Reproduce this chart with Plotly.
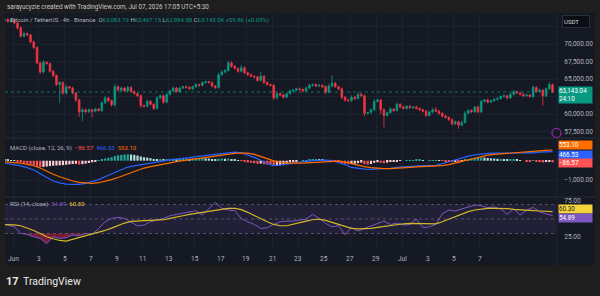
import plotly.graph_objects as go

W, H = 600, 296
def px(x): return x / W
def py(y): return 1 - y / H

UP = "#089981"
DN = "#F23645"
BG = "#151924"
GRID = "#1d2130"
TXT = "#b2b5be"
FONT = "Roboto, Noto Sans, sans-serif"

# ---------------- data ----------------
first_open = 73600
closes = [
    73300, 73500, 73200, 73400, 73000, 72300, 71100, 71500, 71300, 70300,
    69500, 67300, 66000, 67400, 67200, 66100, 65500, 64200, 64500, 63000,
    63900, 63700, 63000, 62000, 60300, 60600, 60300, 60600, 60400, 60700,
    60500, 61600, 62300, 61900, 61300, 63900, 63400, 63700, 63300, 63800,
    63200, 62900, 62600, 61200, 61100, 61800, 61400, 60800, 62300, 62600,
    61700, 62800, 63300, 63700, 63200, 63700, 63900, 63800, 63600, 63900,
    64200, 64100, 64500, 64600, 64500, 64000, 63800, 65600, 66000, 66200,
    67300, 66800, 66500, 66100, 66600, 65900, 65600, 65400, 65300, 64800,
    65400, 64500, 64200, 64100, 62300, 62900, 62700, 62400, 62900, 63300,
    63400, 63600, 63500, 63300, 63700, 64100, 64200, 64000, 64100, 63900,
    63100, 64000, 64400, 63900, 63600, 62400, 62000, 61900, 62400, 62200,
    62800, 62600, 60100, 60200, 60600, 61800, 62000, 60600, 59800, 60200,
    60700, 60500, 61400, 61000, 60800, 61100, 60900, 61000, 60800, 60600,
    60400, 59800, 60300, 60600, 60400, 60100, 59700, 59500, 59200, 58600,
    58900, 58400, 58800, 60100, 60500, 60300, 61000, 60300, 61800, 62000,
    61700, 61900, 62100, 62200, 62500, 62600, 62300, 62800, 63200, 63000,
    62800, 62600, 62700, 62500, 63800, 63200, 63400, 62600, 63600, 64200,
    63143.04]
wick_up = [
    150, 120, 200, 100, 150, 120, 200, 250, 150, 120,
    200, 150, 200, 300, 150, 150, 200, 150, 200, 150,
    300, 150, 200, 150, 200, 250, 150, 200, 150, 200,
    150, 200, 300, 150, 200, 400, 200, 250, 150, 200,
    150, 200, 150, 200, 150, 250, 200, 150, 250, 200,
    200, 250, 200, 200, 150, 200, 150, 150, 200, 150,
    200, 150, 150, 200, 150, 200, 150, 300, 250, 200,
    300, 250, 200, 150, 400, 200, 150, 200, 150, 150,
    600, 200, 150, 150, 150, 200, 150, 200, 150, 200,
    150, 150, 200, 150, 200, 250, 150, 200, 150, 150,
    200, 300, 1100, 200, 150, 200, 150, 200, 250, 150,
    300, 200, 200, 150, 200, 300, 200, 150, 200, 150,
    250, 150, 200, 150, 200, 150, 200, 150, 200, 150,
    150, 200, 150, 250, 400, 200, 150, 200, 150, 150,
    200, 150, 250, 300, 200, 150, 200, 200, 250, 150,
    200, 150, 150, 200, 150, 200, 150, 200, 250, 150,
    200, 150, 200, 150, 300, 200, 250, 200, 200, 400,
    150]
wick_dn = [
    150, 200, 150, 150, 200, 250, 200, 150, 200, 200,
    250, 200, 300, 200, 150, 200, 250, 200, 2600, 300,
    200, 150, 200, 250, 700, 1300, 200, 150, 900, 200,
    150, 200, 150, 200, 250, 300, 150, 200, 150, 150,
    200, 150, 200, 300, 200, 150, 200, 250, 150, 200,
    250, 200, 150, 150, 200, 150, 150, 200, 150, 150,
    150, 200, 150, 150, 200, 200, 250, 200, 150, 200,
    150, 200, 150, 200, 150, 200, 150, 150, 200, 200,
    150, 200, 150, 200, 300, 200, 150, 200, 150, 150,
    200, 150, 150, 200, 150, 150, 200, 150, 150, 200,
    250, 150, 200, 150, 200, 300, 250, 200, 150, 200,
    150, 200, 400, 200, 150, 200, 150, 600, 1700, 200,
    150, 200, 150, 200, 150, 200, 150, 200, 150, 200,
    200, 250, 150, 200, 150, 200, 200, 150, 200, 250,
    200, 500, 150, 200, 150, 200, 150, 200, 150, 150,
    200, 150, 150, 200, 150, 150, 200, 150, 150, 200,
    150, 200, 150, 200, 250, 200, 150, 1400, 200, 150,
    160]
macd_hist = [
    60, 50, 40, 30, 20, -20, -80, -120, -150, -200,
    -240, -310, -330, -320, -300, -280, -260, -250, -240, -230,
    -210, -190, -170, -160, -200, -180, -150, -120, -80, -40,
    20, 60, 110, 150, 180, 240, 280, 300, 320, 330,
    320, 300, 270, 220, 180, 160, 130, 90, 80, 90,
    70, 80, 90, 100, 90, 100, 110, 110, 100, 110,
    120, 120, 130, 120, 110, 80, 60, 100, 110, 100,
    110, 70, 40, 10, -10, -60, -90, -110, -130, -160,
    -150, -180, -200, -210, -280, -260, -220, -180, -140, -90,
    -60, -30, 0, 10, 30, 50, 60, 60, 50, 40,
    -10, 10, 20, -20, -50, -120, -160, -180, -170, -160,
    -130, -100, -180, -200, -170, -110, -80, -110, -130, -100,
    -70, -50, -20, -10, 0, 10, 20, 30, 40, 40,
    30, 0, 10, 20, 20, 10, -10, -30, -40, -70,
    -60, -70, -50, 40, 90, 120, 150, 160, 170, 160,
    140, 120, 110, 100, 100, 90, 60, 60, 60, 40,
    20, 0, -20, -40, 10, -20, -40, -90, -70, -60,
    -86.57]
macd_line = [
    -100, -150, -200, -270, -360, -480, -680, -880, -1050, -1150,
    -1210, -1230, -1230, -1170, -1090, -980, -830, -680, -540, -390,
    -290, -230, -190, -140, -80, -10, 40, 80, 110, 160,
    210, 250, 290, 330, 380, 430, 440, 410, 310, 170,
    20, -150, -240, -230, -180, -120, -70, -30, 0, 20,
    30, 10, -80, -200, -350, -410, -440, -450, -440, -420,
    -390, -350, -320, -290, -270, -260, -260, -240, -160, -60,
    50, 150, 240, 300, 350, 380, 390, 390, 380, 370,
    400, 420, 410, 440, 440, 466.53]
signal_line = [
    -40, -60, -90, -130, -190, -260, -380, -550, -700, -830,
    -950, -1050, -1120, -1160, -1170, -1140, -1070, -980, -870, -740,
    -600, -480, -380, -310, -240, -170, -110, -50, 0, 50,
    110, 160, 200, 250, 290, 330, 380, 400, 390, 330,
    240, 110, -10, -90, -130, -140, -130, -110, -90, -60,
    -30, -10, -20, -70, -150, -240, -310, -360, -390, -410,
    -410, -400, -380, -350, -320, -300, -290, -280, -250, -200,
    -120, -30, 60, 150, 230, 290, 330, 360, 380, 400,
    420, 450, 480, 510, 530, 553.10]
rsi = [
    43.9, 41.6, 39.3, 30.1, 28.7, 25.5, 23.2, 16.0, 25.5, 23.2,
    24.1, 27.8, 26.9, 30.1, 28.7, 37.0, 46.2, 50.8, 52.2, 50.8,
    46.2, 40.7, 41.6, 46.2, 48.5, 50.8, 54.5, 56.4, 58.7, 60.1,
    61.5, 55.5, 64.7, 73.0, 64.7, 62.4, 61.5, 50.8, 46.2, 42.5,
    37.0, 37.9, 42.5, 46.2, 47.1, 47.1, 48.5, 49.9, 56.4, 50.8,
    43.9, 39.3, 40.7, 28.7, 38.4, 33.3, 37.0, 40.7, 43.9, 47.1,
    42.5, 44.4, 41.6, 42.5, 49.9, 37.9, 39.3, 42.5, 57.3, 62.4,
    61.0, 63.8, 66.6, 69.3, 68.4, 65.6, 66.6, 63.8, 56.4, 63.8,
    55.5, 62.0, 66.0, 60.0, 57.0, 54.89]
rsi_ma = [
    42.5, 42.5, 42.0, 40.7, 37.9, 34.2, 30.1, 25.5, 22.7, 20.4,
    19.5, 21.8, 24.1, 26.4, 28.7, 31.0, 34.2, 37.4, 41.1, 44.4,
    46.7, 47.1, 47.1, 47.6, 48.0, 49.0, 50.8, 53.1, 54.5, 56.4,
    57.8, 59.2, 61.0, 62.9, 64.3, 64.7, 64.7, 62.9, 59.2, 54.5,
    49.9, 46.2, 42.5, 40.7, 40.7, 42.5, 44.8, 47.1, 49.0, 49.9,
    48.0, 45.3, 42.5, 39.3, 37.0, 36.5, 36.5, 37.0, 38.4, 39.7,
    41.6, 42.5, 43.4, 43.9, 43.9, 43.4, 42.9, 43.4, 46.2, 49.9,
    53.6, 56.9, 60.1, 62.4, 63.8, 64.7, 64.7, 64.7, 64.3, 63.4,
    62.5, 62.0, 61.5, 61.0, 60.6, 60.30]

tick_days = [0, 2, 4, 6, 8, 10, 12, 14, 16, 18, 20, 22, 24, 26, 28, 30, 32, 34, 36]
tick_text = ["Jun", "3", "5", "7", "9", "11", "13", "15", "17", "19", "21", "23",
             "25", "27", "29", "Jul", "3", "5", "7"]
price_ticks = [57500, 60000, 62500, 65000, 67500, 70000, 72500]
price_text = ["57,500.00", "60,000.00", "", "65,000.00", "67,500.00", "70,000.00", ""]

# ---------------- derived ----------------
N = len(closes)
x_days = [-0.9 + 0.25 * i for i in range(N)]   # 6h candles on a day axis
opens = [first_open] + closes[:-1]
highs = [max(o, c) + w for o, c, w in zip(opens, closes, wick_up)]
lows = [min(o, c) - w for o, c, w in zip(opens, closes, wick_dn)]
x_ind = x_days[::2]

hist_colors = []
prev = 0
for h in macd_hist:
    if h >= 0:
        hist_colors.append("#26A69A" if h >= prev else "#B2DFDB")
    else:
        hist_colors.append("#FF5252" if h < prev else "#FFCDD2")
    prev = h

# ---------------- geometry ----------------
X0, X1 = 5, 557
day_per_px = 1 / 12.97
xr = [(X0 - 13) * day_per_px, (X1 - 13) * day_per_px]
MAIN = (13, 138)
MACD = (138, 197)
RSI = (197, 248)
main_range = [60000 - (MAIN[1] - 114) * 142.86, 60000 + (114 - MAIN[0]) * 142.86]
macd_range = [(160.7 - MACD[1]) * 51.8, (160.7 - MACD[0]) * 51.8]
rsi_range = [50 - (RSI[1] - 219) / 0.725, 50 + (219 - RSI[0]) / 0.725]

fig = go.Figure()
fig.add_trace(go.Candlestick(
    x=x_days, open=opens, high=highs, low=lows, close=closes,
    increasing=dict(line=dict(color=UP, width=0.8), fillcolor=UP),
    decreasing=dict(line=dict(color=DN, width=0.8), fillcolor=DN),
    whiskerwidth=0, xaxis="x", yaxis="y", showlegend=False, hoverinfo="skip"))

fig.add_trace(go.Bar(x=x_days, y=macd_hist, marker=dict(color=hist_colors, line=dict(width=0)),
                     width=0.17, xaxis="x2", yaxis="y2", showlegend=False, hoverinfo="skip"))
fig.add_trace(go.Scatter(x=x_ind, y=macd_line, mode="lines", line=dict(color="#2962FF", width=1.2),
                         xaxis="x2", yaxis="y2", showlegend=False, hoverinfo="skip"))
fig.add_trace(go.Scatter(x=x_ind, y=signal_line, mode="lines", line=dict(color="#FF6D00", width=1.2),
                         xaxis="x2", yaxis="y2", showlegend=False, hoverinfo="skip"))

# RSI oversold fill
fig.add_trace(go.Scatter(x=x_ind, y=[30] * len(x_ind), mode="lines", line=dict(width=0),
                         xaxis="x3", yaxis="y3", showlegend=False, hoverinfo="skip"))
fig.add_trace(go.Scatter(x=x_ind, y=[min(v, 30) for v in rsi], mode="lines", line=dict(width=0),
                         fill="tonexty", fillcolor="rgba(200,30,70,0.55)",
                         xaxis="x3", yaxis="y3", showlegend=False, hoverinfo="skip"))
fig.add_trace(go.Scatter(x=x_ind, y=rsi, mode="lines", line=dict(color="#7E57C2", width=1),
                         xaxis="x3", yaxis="y3", showlegend=False, hoverinfo="skip"))
fig.add_trace(go.Scatter(x=x_ind, y=rsi_ma, mode="lines", line=dict(color="#D4B82A", width=1.2),
                         xaxis="x3", yaxis="y3", showlegend=False, hoverinfo="skip"))

xdom = [px(X0), px(X1)]
common_x = dict(domain=xdom, range=xr, showgrid=True, gridcolor=GRID, gridwidth=1,
                zeroline=False, tickmode="array", tickvals=tick_days, showline=False, fixedrange=True)
tickfont = dict(family=FONT, size=6.5, color=TXT)
fig.update_layout(
    width=W, height=H, margin=dict(l=0, r=0, t=0, b=0),
    paper_bgcolor="#1e1e1e", plot_bgcolor=BG,
    font=dict(family=FONT, color=TXT),
    xaxis=dict(**common_x, anchor="y", showticklabels=False, rangeslider=dict(visible=False)),
    xaxis2=dict(**common_x, anchor="y2", showticklabels=False),
    xaxis3=dict(**common_x, anchor="y3", showticklabels=False),
    yaxis=dict(domain=[py(MAIN[1]), py(MAIN[0])], range=main_range, side="right", anchor="x",
               tickvals=price_ticks, ticktext=price_text, showgrid=True, gridcolor=GRID,
               zeroline=False, ticks="outside", ticklen=5, tickcolor="rgba(0,0,0,0)",
               tickfont=tickfont),
    yaxis2=dict(domain=[py(MACD[1]), py(MACD[0])], range=macd_range, side="right", anchor="x2",
                tickvals=[-1000], ticktext=["\u22121,000.00"], showgrid=True, gridcolor=GRID,
                zeroline=False, ticks="outside", ticklen=5, tickcolor="rgba(0,0,0,0)",
                tickfont=tickfont),
    yaxis3=dict(domain=[py(RSI[1]), py(RSI[0])], range=rsi_range, side="right", anchor="x3",
                tickvals=[25, 75], ticktext=["25.00", "75.00"], showgrid=False,
                zeroline=False, ticks="outside", ticklen=5, tickcolor="rgba(0,0,0,0)",
                tickfont=tickfont),
)

shapes = []
# chart panel background
shapes.append(dict(type="rect", xref="paper", yref="paper", x0=px(5), x1=px(595), y0=py(265), y1=py(13),
                   fillcolor=BG, line=dict(width=0), layer="below"))
# RSI band
shapes.append(dict(type="rect", xref="paper", yref="y3", x0=xdom[0], x1=xdom[1], y0=30, y1=70,
                   fillcolor="rgba(126,87,194,0.12)", line=dict(width=0), layer="below"))
for lvl in (70, 50, 30):
    shapes.append(dict(type="line", xref="paper", yref="y3", x0=xdom[0], x1=xdom[1], y0=lvl, y1=lvl,
                       line=dict(color="rgba(120,123,134,0.55)", width=1, dash="dot")))
# pane separators
for ysep in (MACD[0], RSI[0]):
    shapes.append(dict(type="line", xref="paper", yref="paper", x0=px(5), x1=px(595),
                       y0=py(ysep), y1=py(ysep), line=dict(color="#2a2e39", width=1)))
shapes.append(dict(type="line", xref="paper", yref="paper", x0=px(X1), x1=px(X1),
                   y0=py(265), y1=py(13), line=dict(color="#1f2330", width=1)))
# current price line
shapes.append(dict(type="line", xref="paper", yref="y", x0=xdom[0], x1=xdom[1],
                   y0=closes[-1], y1=closes[-1], line=dict(color="rgba(8,153,129,0.7)", width=1, dash="dot")))
# purple icon
shapes.append(dict(type="circle", xref="paper", yref="paper", x0=px(552), x1=px(561),
                   y0=py(137.5), y1=py(128.5), fillcolor=BG, line=dict(color="#9c27b0", width=1.2)))
fig.update_layout(shapes=shapes)

ann = []
# time-axis labels placed on the x3 data scale
for d, t in zip(tick_days, tick_text):
    ann.append(dict(xref="x3", yref="paper", x=d, y=py(259), xanchor="center", yanchor="middle",
                    text=t, showarrow=False, font=tickfont))

def badge(text, ycen, bg, fg="#ffffff", h=8):
    ann.append(dict(xref="paper", yref="paper", x=px(558), y=py(ycen), xanchor="left", yanchor="middle",
                    text=text, showarrow=False, bgcolor=bg, width=33, height=h, borderpad=0,
                    align="left", font=dict(family=FONT, size=6.3, color=fg)))

badge("63,143.04<br>24:10", 95, UP, h=16)
badge("553.10", 145, "#FF6D00")
badge("466.53", 154.5, "#2962FF")
badge("\u221286.57", 163, "#FF5252")
badge("60.30", 209, "#F5D33B", fg="#1e1e1e")
badge("54.89", 218, "#7E57C2")
ann.append(dict(xref="paper", yref="paper", x=px(562), y=py(21), xanchor="left", yanchor="middle",
                text="USDT", showarrow=False, bgcolor="#0c0e14", bordercolor="#2a2e39", borderwidth=1,
                width=24, height=9, align="left", font=dict(family=FONT, size=6, color="#d1d4dc")))

ann.append(dict(xref="paper", yref="paper", x=px(5), y=py(7), xanchor="left", yanchor="middle",
                text="sarayucyzie created with TradingView.com, Jul 07, 2026 17:05 UTC+5:30",
                showarrow=False, font=dict(family=FONT, size=6.3, color="#c8c8c8")))

tc = UP
legend = ("Bitcoin / TetherUS \u00b7 4h \u00b7 Binance  "
          f"O<span style='color:{tc}'>63,083.19</span> "
          f"H<span style='color:{tc}'>63,467.15</span> "
          f"L<span style='color:{tc}'>62,984.58</span> "
          f"C<span style='color:{tc}'>63,143.04</span> "
          f"<span style='color:{tc}'>+59.86 (+0.09%)</span>")
ann.append(dict(xref="paper", yref="paper", x=px(8), y=py(20), xanchor="left", yanchor="middle",
                text=legend, showarrow=False, font=dict(family=FONT, size=6, color=TXT)))
ann.append(dict(xref="paper", yref="paper", x=px(8), y=py(148), xanchor="left", yanchor="middle",
                text=("MACD (close, 12, 26, 9)  <span style='color:#FF5252'>\u221286.57</span>  "
                      "<span style='color:#2962FF'>466.53</span>  <span style='color:#FF6D00'>553.10</span>"),
                showarrow=False, font=dict(family=FONT, size=6, color=TXT)))
ann.append(dict(xref="paper", yref="paper", x=px(8), y=py(204), xanchor="left", yanchor="middle",
                text=("RSI (14, close)  <span style='color:#7E57C2'>54.89</span>  "
                      "<span style='color:#F5D33B'>60.30</span>"),
                showarrow=False, font=dict(family=FONT, size=6, color=TXT)))
ann.append(dict(xref="paper", yref="paper", x=px(4), y=py(281), xanchor="left", yanchor="middle",
                text="<b>17</b>", showarrow=False, font=dict(family=FONT, size=11, color="#e8e8e8")))
ann.append(dict(xref="paper", yref="paper", x=px(21), y=py(281), xanchor="left", yanchor="middle",
                text="TradingView", showarrow=False, font=dict(family=FONT, size=10.5, color="#e8e8e8")))
fig.update_layout(annotations=ann)

fig.write_html("out.html")
